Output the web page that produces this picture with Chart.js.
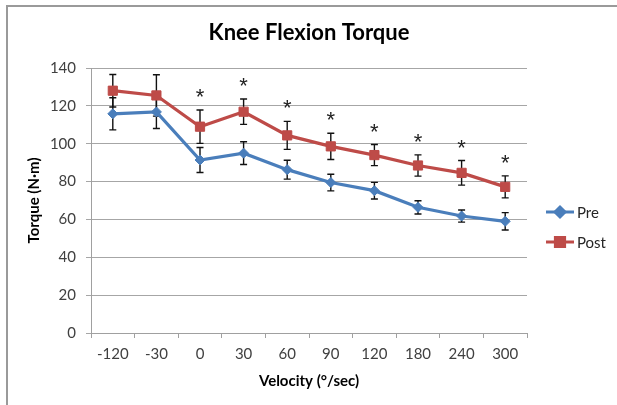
<!DOCTYPE html>
<html>
<head>
<meta charset="utf-8">
<script src="https://cdn.jsdelivr.net/npm/chart.js@4.4.1/dist/chart.umd.min.js"></script>
<style>
  html, body { margin: 0; padding: 0; background: #ffffff; }
  #wrap { width: 617px; height: 405px; position: relative; }
</style>
</head>
<body>
<div id="wrap"><canvas id="c" width="617" height="405"></canvas></div>
<script>
// ---- Data ----
const categories = ['-120', '-30', '0', '30', '60', '90', '120', '180', '240', '300'];
const preValues  = [115.8, 116.8, 91.4, 95.0, 86.3, 79.5, 75.2, 66.4, 61.8, 59.0];
const preErrors  = [8.5, 8.8, 6.6, 6.0, 5.0, 4.4, 4.4, 3.5, 3.2, 4.6];
const postValues = [128.0, 125.5, 109.0, 116.9, 104.4, 98.6, 94.0, 88.5, 84.6, 77.2];
const postErrors = [8.6, 10.9, 8.8, 6.7, 7.4, 6.9, 5.6, 5.6, 6.5, 5.8];
const significant = [false, false, true, true, true, true, true, true, true, true];
const seriesNames = ['Pre', 'Post'];
const yMin = 0, yMax = 140, yStep = 20;

const FONT = 'Lato, "Open Sans", "Liberation Sans", sans-serif';
const BLUE = '#4A7EBB';
const RED = '#BE4B48';

const frame = {
  id: 'frame',
  beforeDraw(chart) {
    const ctx = chart.ctx;
    ctx.save();
    ctx.strokeStyle = '#9a9a9a';
    ctx.lineWidth = 2;
    ctx.beginPath();
    ctx.moveTo(7, 405);
    ctx.lineTo(7, 6);
    ctx.lineTo(617, 6);
    ctx.stroke();
    ctx.restore();
  }
};

const errorBars = {
  id: 'errorBars',
  beforeDatasetsDraw(chart) {
    const ctx = chart.ctx;
    const xs = chart.scales.x, ys = chart.scales.y;
    const sets = [[preValues, preErrors], [postValues, postErrors]];
    ctx.save();
    ctx.strokeStyle = '#111111';
    ctx.lineWidth = 1.4;
    sets.forEach(([vals, errs]) => {
      vals.forEach((v, i) => {
        const x = xs.getPixelForValue(i);
        const yt = ys.getPixelForValue(v + errs[i]);
        const yb = ys.getPixelForValue(v - errs[i]);
        ctx.beginPath();
        ctx.moveTo(x, yt); ctx.lineTo(x, yb);
        ctx.moveTo(x - 3.5, yt); ctx.lineTo(x + 3.5, yt);
        ctx.moveTo(x - 3.5, yb); ctx.lineTo(x + 3.5, yb);
        ctx.stroke();
      });
    });
    ctx.restore();
  },
  afterDatasetsDraw(chart) {
    const ctx = chart.ctx;
    const xs = chart.scales.x, ys = chart.scales.y;
    ctx.save();
    ctx.fillStyle = '#222222';
    ctx.font = '22px "Liberation Sans", sans-serif';
    ctx.textAlign = 'center';
    ctx.textBaseline = 'middle';
    significant.forEach((s, i) => {
      if (!s) return;
      const x = xs.getPixelForValue(i);
      const y = ys.getPixelForValue(postValues[i] + postErrors[i]);
      ctx.fillText('*', x, y - 12);
    });
    ctx.restore();
  }
};

const customLegend = {
  id: 'customLegend',
  afterDraw(chart) {
    const ctx = chart.ctx;
    const items = chart.data.datasets;
    const ys0 = [212, 242];
    ctx.save();
    items.forEach((ds, i) => {
      const y = ys0[i];
      ctx.strokeStyle = ds.borderColor;
      ctx.lineWidth = 3;
      ctx.beginPath();
      ctx.moveTo(546, y); ctx.lineTo(574, y);
      ctx.stroke();
      ctx.fillStyle = ds.borderColor;
      ctx.strokeStyle = ds.borderColor;
      Chart.helpers.drawPoint(ctx, {pointStyle: ds.pointStyle, radius: ds.pointRadius, borderWidth: 1}, 560, y);
      ctx.fillStyle = '#262626';
      ctx.font = '15px ' + FONT;
      ctx.textAlign = 'left';
      ctx.textBaseline = 'middle';
      ctx.fillText(ds.label, 577, y + 1);
    });
    ctx.restore();
  }
};

new Chart(document.getElementById('c'), {
  type: 'line',
  data: {
    labels: categories,
    datasets: [
      {
        label: seriesNames[0], data: preValues,
        borderColor: BLUE, backgroundColor: BLUE, borderWidth: 3.2,
        pointStyle: 'rectRot', pointRadius: 5, pointBorderWidth: 1, tension: 0
      },
      {
        label: seriesNames[1], data: postValues,
        borderColor: RED, backgroundColor: RED, borderWidth: 3.2,
        pointStyle: 'rect', pointRadius: 6.5, pointBorderWidth: 1, tension: 0
      }
    ]
  },
  options: {
    responsive: false,
    animation: false,
    events: [],
    layout: { padding: { left: 0, right: 90, top: 0, bottom: 0 } },
    plugins: {
      legend: { display: false },
      tooltip: { enabled: false },
      title: {
        display: true, fullSize: false,
        text: 'Knee Flexion Torque',
        color: '#000000',
        font: { family: FONT, size: 22, weight: 'bold' },
        padding: { top: 20, bottom: 21.6 }
      }
    },
    scales: {
      x: {
        type: 'category',
        offset: true,
        afterFit(scale) { scale.height = 72; },
        grid: { display: true, offset: true, drawOnChartArea: false, drawTicks: true, tickLength: 5, color: '#a0a0a0' },
        border: { display: true, color: '#a0a0a0', width: 1 },
        ticks: { color: '#404040', font: { family: FONT, size: 15 }, padding: 7, maxRotation: 0, autoSkip: false },
        title: {
          display: true, text: 'Velocity (°/sec)', color: '#000000',
          font: { family: FONT, size: 15, weight: 'bold' },
          padding: { top: 0, bottom: 15 }
        }
      },
      y: {
        min: yMin, max: yMax,
        afterFit(scale) { scale.width = 91; },
        grid: { color: '#a6a6a6', drawTicks: true, tickLength: 5 },
        border: { display: true, color: '#a0a0a0', width: 1 },
        ticks: { stepSize: yStep, color: '#404040', font: { family: FONT, size: 15 }, padding: 10 },
        title: {
          display: true, text: 'Torque (N·m)', color: '#000000',
          font: { family: FONT, size: 15, weight: 'bold' },
          padding: { top: 25, bottom: 0 }
        }
      }
    }
  },
  plugins: [frame, errorBars, customLegend]
});
</script>
</body>
</html>
